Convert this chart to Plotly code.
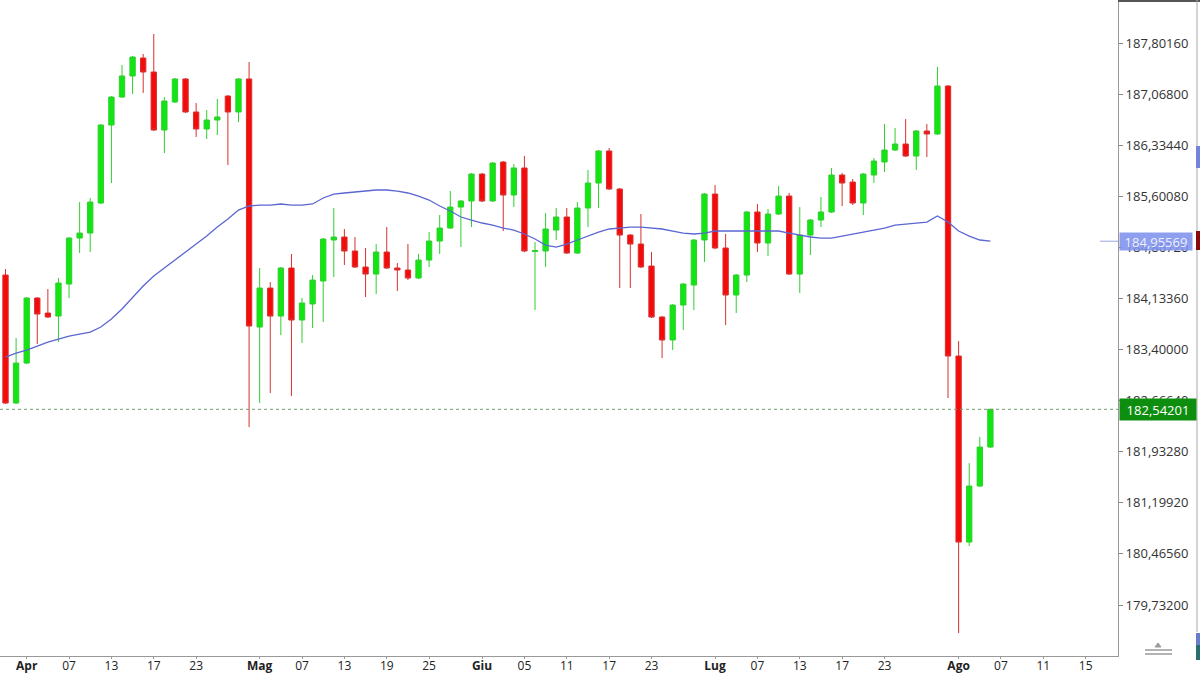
import plotly.graph_objects as go

# daily bars (index 0 = last days of March)
bars = list(range(94))

opens = [184.470, 182.632, 183.206, 184.140, 183.924, 183.881, 184.341, 185.001, 185.073, 185.504,
         186.624, 187.026, 187.328, 187.586, 187.385, 186.552, 186.954, 187.285, 186.811, 186.567,
         186.696, 187.040, 186.811, 187.285, 183.723, 184.283, 183.881, 184.571, 183.824, 184.054,
         184.384, 184.973, 185.016, 184.815, 184.585, 184.484, 184.800, 184.571, 184.542, 184.427,
         184.685, 184.958, 185.145, 185.446, 185.533, 185.920, 185.533, 186.093, 185.619, 186.007,
         184.807, 184.815, 185.116, 185.303, 184.786, 185.432, 185.791, 186.251, 185.705, 185.044,
         184.915, 184.599, 183.867, 183.537, 184.039, 184.326, 184.973, 185.633, 184.858, 184.183,
         184.470, 185.375, 184.930, 185.346, 185.604, 184.484, 185.044, 185.260, 185.375, 185.906,
         185.805, 185.504, 185.906, 186.093, 186.265, 186.351, 186.179, 186.538, 186.495, 187.184,
         183.307, 180.636, 181.440, 182.000]

highs = [184.556, 183.565, 184.154, 184.154, 184.269, 184.427, 185.016, 185.518, 185.576, 186.638,
         187.040, 187.486, 187.615, 187.644, 187.931, 187.026, 187.299, 187.299, 186.940, 186.839,
         186.997, 187.055, 187.299, 187.529, 184.571, 184.369, 184.585, 184.772, 184.140, 184.470,
         185.001, 185.432, 185.131, 185.016, 184.858, 184.915, 185.159, 184.642, 184.915, 184.772,
         185.087, 185.332, 185.676, 185.547, 185.935, 185.935, 186.093, 186.107, 186.064, 186.179,
         184.944, 185.360, 185.432, 185.432, 185.518, 185.978, 186.265, 186.294, 185.719, 185.059,
         185.346, 184.800, 183.881, 184.054, 184.355, 184.987, 185.648, 185.762, 185.059, 184.484,
         185.389, 185.490, 185.418, 185.748, 185.648, 185.446, 185.274, 185.590, 186.007, 185.935,
         185.849, 185.935, 186.150, 186.638, 186.581, 186.710, 186.552, 186.638, 187.457, 187.198,
         183.522, 181.770, 182.144, 182.542]

lows = [182.618, 182.618, 183.192, 183.479, 183.853, 183.508, 184.140, 184.786, 184.800, 185.490,
        185.791, 187.012, 187.069, 187.084, 186.538, 186.222, 186.940, 186.796, 186.452, 186.423,
        186.480, 186.050, 186.667, 182.287, 182.632, 182.776, 183.608, 182.732, 183.494, 183.709,
        183.795, 184.441, 184.614, 184.571, 184.154, 184.197, 184.556, 184.240, 184.398, 184.413,
        184.585, 184.772, 185.131, 184.872, 185.159, 185.518, 185.518, 185.102, 185.446, 184.800,
        183.967, 184.585, 184.973, 184.772, 184.772, 185.159, 185.432, 185.691, 184.283, 184.283,
        184.571, 183.853, 183.278, 183.393, 183.680, 183.967, 184.657, 184.843, 183.752, 183.924,
        184.369, 184.800, 184.743, 185.332, 184.470, 184.212, 184.757, 185.159, 185.360, 185.461,
        185.475, 185.332, 185.791, 185.949, 186.251, 186.164, 185.978, 186.164, 186.480, 182.704,
        179.329, 180.578, 181.426, 181.986]

closes = [182.632, 183.206, 184.140, 183.910, 183.867, 184.355, 185.001, 185.073, 185.518, 186.624,
          187.026, 187.328, 187.600, 187.385, 186.552, 186.969, 187.285, 186.811, 186.567, 186.696,
          186.739, 186.811, 187.285, 183.738, 184.283, 183.881, 184.571, 183.824, 184.068, 184.398,
          184.987, 185.016, 184.815, 184.585, 184.484, 184.800, 184.571, 184.542, 184.427, 184.685,
          184.958, 185.145, 185.446, 185.533, 185.920, 185.533, 186.078, 185.619, 186.007, 184.815,
          184.822, 185.131, 185.303, 184.786, 185.432, 185.791, 186.251, 185.705, 185.044, 184.915,
          184.585, 183.867, 183.537, 184.039, 184.341, 184.973, 185.633, 184.858, 184.183, 184.470,
          185.375, 184.930, 185.346, 185.604, 184.484, 185.044, 185.260, 185.375, 185.906, 185.791,
          185.504, 185.920, 186.107, 186.265, 186.351, 186.179, 186.538, 186.495, 187.184, 183.307,
          180.636, 181.440, 182.000, 182.542]

ma = [183.292, 183.350, 183.393, 183.450, 183.508, 183.551, 183.594, 183.623, 183.651, 183.723,
      183.838, 183.982, 184.154, 184.312, 184.456, 184.571, 184.685, 184.800, 184.915, 185.030,
      185.159, 185.274, 185.403, 185.461, 185.475, 185.475, 185.490, 185.475, 185.475, 185.490,
      185.576, 185.633, 185.648, 185.662, 185.676, 185.691, 185.691, 185.676, 185.648, 185.604,
      185.547, 185.461, 185.389, 185.303, 185.260, 185.217, 185.188, 185.145, 185.116, 185.059,
      184.987, 184.901, 184.872, 184.915, 184.973, 185.030, 185.087, 185.131, 185.145, 185.159,
      185.159, 185.145, 185.131, 185.102, 185.073, 185.059, 185.073, 185.102, 185.102, 185.102,
      185.102, 185.102, 185.102, 185.102, 185.073, 185.044, 185.016, 185.001, 185.001, 185.030,
      185.059, 185.087, 185.116, 185.145, 185.188, 185.202, 185.217, 185.231, 185.317, 185.231,
      185.102, 185.030, 184.973, 184.956]

tick_pos = [2, 6, 10, 14, 18, 24, 28, 32, 36, 40, 45, 49, 53, 57, 61, 67, 71, 75, 79, 83, 90, 94, 98, 102]
tick_txt = ["Apr", "07", "13", "17", "23", "Mag", "07", "13", "19", "25", "Giu", "05", "11", "17", "23",
            "Lug", "07", "13", "17", "23", "Ago", "07", "11", "15"]
months = ["Apr", "Mag", "Giu", "Lug", "Ago"]

price_ticks = [179.73200, 180.46560, 181.19920, 181.93280, 182.66640, 183.40000,
               184.13360, 184.86720, 185.60080, 186.33440, 187.06800, 187.80160]

last_price = 182.54201
last_ma = 184.95569

FONT = "Open Sans, Roboto, DejaVu Sans"
PW, PH = 1118, 656   # plot area in pixels


def px(x):
    return x / PW


def py(y):
    return (PH - y) / PH


fig = go.Figure()
fig.add_trace(go.Candlestick(
    x=bars, open=opens, high=highs, low=lows, close=closes,
    increasing=dict(line=dict(color='#2fcf2f', width=1), fillcolor='#12e612'),
    decreasing=dict(line=dict(color='#d83030', width=1), fillcolor='#f50a0a'),
    whiskerwidth=0, showlegend=False, name='Prezzo'))
fig.add_trace(go.Scatter(
    x=bars, y=ma, mode='lines', line=dict(color='#5b66d2', width=1.3),
    showlegend=False, name='MA'))

shapes = [
    # last price line
    dict(type='line', xref='paper', yref='y', x0=0, x1=1, y0=last_price, y1=last_price,
         line=dict(color='#6e9e6e', width=1, dash='dot')),
    # short marker of the MA on the axis
    dict(type='line', xref='paper', yref='y', x0=px(1100), x1=1, y0=last_ma, y1=last_ma,
         line=dict(color='#9aa6e8', width=1)),
    # frame bits on the right
    dict(type='line', xref='paper', yref='paper', x0=1, x1=px(1200), y0=py(1), y1=py(1),
         line=dict(color='#555555', width=2)),
    dict(type='line', xref='paper', yref='paper', x0=px(1197), x1=px(1197), y0=py(0), y1=py(632),
         line=dict(color='#aaaaaa', width=1)),
    dict(type='rect', xref='paper', yref='paper', x0=px(1196), x1=px(1200), y0=py(168), y1=py(146),
         line=dict(width=0), fillcolor='#7484da'),
    dict(type='rect', xref='paper', yref='paper', x0=px(1196), x1=px(1200), y0=py(250), y1=py(231),
         line=dict(width=0), fillcolor='#8a0a0a'),
    dict(type='rect', xref='paper', yref='paper', x0=px(1196), x1=px(1200), y0=py(645), y1=py(633),
         line=dict(width=0), fillcolor='#6a7ccc'),
    dict(type='rect', xref='paper', yref='paper', x0=px(1196), x1=px(1200), y0=py(660), y1=py(645),
         line=dict(width=0), fillcolor='#2a6e6e'),
    # little icon at the bottom right
    dict(type='line', xref='paper', yref='paper', x0=px(1145), x1=px(1172), y0=py(650), y1=py(650),
         line=dict(color='#9a9a9a', width=1.5)),
    dict(type='line', xref='paper', yref='paper', x0=px(1145), x1=px(1172), y0=py(654), y1=py(654),
         line=dict(color='#9a9a9a', width=1.5)),
    dict(type='path', xref='paper', yref='paper',
         path='M %f,%f L %f,%f L %f,%f Z' % (px(1155), py(647), px(1161), py(647), px(1158), py(643)),
         line=dict(color='#9a9a9a', width=1), fillcolor='#9a9a9a'),
]

annotations = [
    dict(xref='paper', yref='y', x=1, y=last_ma, xanchor='left', yanchor='middle', xshift=1,
         text=('%.5f' % last_ma).replace('.', ','), showarrow=False, width=70, height=15,
         bgcolor='rgba(128,146,238,0.88)', font=dict(family=FONT, size=13, color='#eef0ff')),
    dict(xref='paper', yref='y', x=1, y=last_price, xanchor='left', yanchor='middle', xshift=1,
         text=('%.5f' % last_price).replace('.', ','), showarrow=False, width=74, height=19,
         bgcolor='#0e8e0e', font=dict(family=FONT, size=13, color='white')),
]

fig.update_layout(
    width=1200, height=675,
    margin=dict(l=0, r=1200 - PW, t=0, b=675 - PH),
    paper_bgcolor='white', plot_bgcolor='white',
    separators=',.',
    boxgap=0.28,
    hovermode=False,
    shapes=shapes, annotations=annotations,
    font=dict(family=FONT, size=13, color='#333333'),
)
fig.update_xaxes(
    range=[-0.52, 105.05], rangeslider=dict(visible=False),
    tickmode='array', tickvals=tick_pos,
    ticktext=['<b>%s</b>' % t if t in months else t for t in tick_txt],
    ticks='outside', ticklen=2, tickcolor='#999999', ticklabelstandoff=-3,
    showline=True, linecolor='#999999', linewidth=1,
    showgrid=False, zeroline=False, automargin=False,
    tickfont=dict(family=FONT, size=12, color='#222222'))
fig.update_yaxes(
    range=[179.0, 188.419], side='right',
    tickmode='array', tickvals=price_ticks, tickformat='.5f',
    ticks='outside', ticklen=4, tickcolor='#888888',
    showline=True, linecolor='#999999', linewidth=1,
    showgrid=False, zeroline=False, automargin=False,
    tickfont=dict(family=FONT, size=13, color='#333333'))

# page body has an 8px default margin; drop it so the figure sits at 0,0
fig.write_html("out.html", config=dict(displayModeBar=False),
               post_script="document.body.style.margin='0';document.body.style.overflow='hidden';")
